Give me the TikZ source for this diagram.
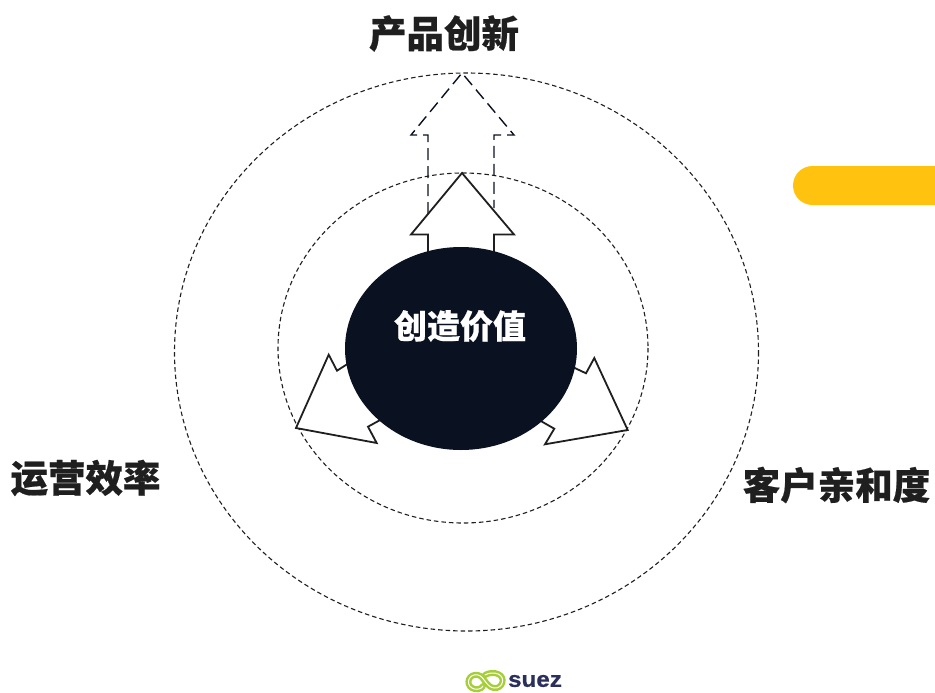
\documentclass[tikz,border=0pt]{standalone}
\usepackage{fontspec}
\setmainfont{Liberation Sans}[BoldFeatures={FakeBold=0.6}]
\newfontfamily\cjk{Noto Sans CJK SC}[BoldFeatures={FakeBold=0.5}]
\definecolor{ink}{HTML}{0A1120}
\definecolor{labelink}{HTML}{1F1F1F}
\definecolor{tabyellow}{HTML}{FFC20E}
\definecolor{lgreen}{HTML}{A6CE39}
\definecolor{lnavy}{HTML}{2A2F5B}
\tikzset{
  orbit/.style={draw=labelink,line width=1.1pt,dash pattern=on 4.5pt off 3pt},
  solidarrow/.style={draw=labelink,line width=1.8pt,fill=white,line join=miter},
  ghostarrow/.style={draw=ink,line width=1.4pt,dash pattern=on 12pt off 6pt},
  heading/.style={font=\cjk\bfseries\fontsize{37.5}{37.5}\selectfont,text=labelink,inner sep=0pt},
  swirlband/.style={draw=lgreen,line width=6pt,line cap=round},
  swirlline/.style={draw=white,line width=1pt,line cap=round}
}
\begin{document}
\begin{tikzpicture}[x=1pt,y=-1pt]
\useasboundingbox (0,0) rectangle (935,693);
% yellow tab
\fill[fill=tabyellow] (936,166) -- (812.5,166) arc[start angle=270,end angle=90,radius=19.5] -- (936,205) -- cycle;
% orbits
\draw[orbit] (466.5,352) ellipse[x radius=292,y radius=279];
\draw[orbit] (463,348) ellipse[x radius=185,y radius=175];
% dashed arrow
\draw[ghostarrow] (428,214) -- (428,135) -- (411,135) -- (462,73) -- (514,135) -- (494,135) -- (494,208);
% solid arrows
\draw[solidarrow] (428,262) -- (428,234.5) -- (411,234.5) -- (462,173) -- (514,234.5) -- (494,234.5) -- (494,262);
\draw[solidarrow] (349,363) -- (337,370.7) -- (328.7,354.7) -- (296,428) -- (376.7,443) -- (368,426.7) -- (382,419);
\draw[solidarrow] (572,366.7) -- (586,373.3) -- (594.3,358) -- (627.7,430) -- (545,444.3) -- (554.3,428.7) -- (539,420);
% centre
\fill[ink] (461,348.5) ellipse[x radius=116,y radius=101.5];
\node[font=\cjk\bfseries\fontsize{33}{33}\selectfont,text=white,inner sep=0pt] (centre) at (460,326) {创造价值};
\node[heading] (top) at (444,33.5) {产品创新};
\node[heading] (left) at (85.5,478) {运营效率};
\node[heading] (right) at (836.5,485) {客户亲和度};
% logo
\begin{scope}[shift={(486,681)}]
\def\swirlS{(-14,7) .. controls (-21,3) and (-17,-8) .. (-8,-6) .. controls (-2,-5) and (0,6) .. (8,7) .. controls (17,8) and (20,-4) .. (12,-7) .. controls (8,-9) and (2,-8) .. (-1,-6)}
\def\swirlT{(-14,7) .. controls (-11,9) and (-5,9) .. (-3,5)}
\draw[swirlband] \swirlS;
\draw[swirlband] \swirlT;
\draw[swirlline] \swirlS;
\draw[swirlline] \swirlT;
\end{scope}
\node[font=\bfseries\fontsize{22}{22}\selectfont,text=lnavy,inner sep=0pt,anchor=center,xscale=1.1] (brand) at (535,681) {suez};
\end{tikzpicture}
\end{document}
